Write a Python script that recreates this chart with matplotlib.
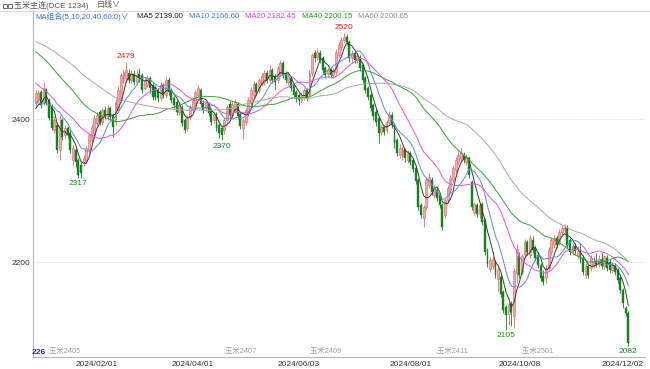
import matplotlib
matplotlib.use('Agg')
import matplotlib.pyplot as plt
import numpy as np
import pandas as pd
from matplotlib.patches import Rectangle
from matplotlib.lines import Line2D
import matplotlib.transforms as mtransforms

FONT = ['Liberation Sans', 'Noto Sans CJK SC', 'DejaVu Sans']
plt.rcParams['font.family'] = FONT

# ---------------- data ----------------
holidays = ['2024-01-01', '2024-02-09', '2024-02-12', '2024-02-13', '2024-02-14',
            '2024-02-15', '2024-02-16', '2024-04-04', '2024-04-05', '2024-05-01',
            '2024-05-02', '2024-05-03', '2024-06-10', '2024-09-16', '2024-09-17',
            '2024-10-01', '2024-10-02', '2024-10-03', '2024-10-04', '2024-10-07']
dates = pd.bdate_range('2023-12-29', '2024-12-04')
dates = dates[~dates.isin(pd.to_datetime(holidays))]

# closes before the first visible candle (used only to warm up the moving averages)
prior_closes = [2530,
                2525, 2530, 2538, 2545, 2540, 2532, 2528, 2535, 2542, 2548,
                2544, 2536, 2530, 2527, 2533, 2540, 2546, 2541, 2535, 2525,
                2552, 2560, 2566, 2558, 2563, 2570, 2562, 2555, 2548, 2552,
                2540, 2533, 2528, 2520, 2525, 2515, 2508, 2512, 2500, 2493,
                2495, 2488, 2490, 2480, 2476, 2470, 2472, 2465, 2460, 2464,
                2450, 2441, 2432, 2425, 2418, 2410, 2415, 2405, 2408]

opens = [2422, 2427, 2438, 2424, 2440, 2426, 2418, 2385, 2392, 2357,
         2398, 2378, 2387, 2380, 2343, 2357, 2343, 2336, 2340, 2343,
         2357, 2371, 2378, 2394, 2410, 2396, 2413, 2401, 2415, 2406,
         2396, 2413, 2427, 2455, 2457, 2464, 2455, 2463, 2452, 2463,
         2461, 2443, 2448, 2457, 2448, 2445, 2441, 2429, 2448, 2434,
         2455, 2441, 2429, 2424, 2410, 2415, 2399, 2387, 2403, 2413,
         2422, 2434, 2441, 2422, 2415, 2421, 2413, 2399, 2407, 2392,
         2387, 2385, 2399, 2421, 2406, 2413, 2421, 2407, 2387, 2396,
         2408, 2422, 2434, 2449, 2441, 2449, 2452, 2464, 2455, 2469,
         2460, 2455, 2466, 2478, 2464, 2452, 2457, 2448, 2438, 2434,
         2427, 2431, 2441, 2434, 2464, 2492, 2487, 2492, 2485, 2471,
         2463, 2469, 2461, 2466, 2490, 2501, 2511, 2515, 2508, 2485,
         2492, 2483, 2485, 2475, 2457, 2443, 2434, 2420, 2410, 2401,
         2382, 2389, 2385, 2396, 2406, 2392, 2370, 2350, 2348, 2356,
         2343, 2352, 2343, 2332, 2315, 2280, 2262, 2277, 2308, 2315,
         2294, 2301, 2294, 2280, 2266, 2287, 2301, 2315, 2329, 2340,
         2345, 2350, 2340, 2345, 2312, 2270, 2280, 2267, 2281, 2259,
         2217, 2190, 2195, 2200, 2176, 2179, 2158, 2137, 2127, 2141,
         2125, 2185, 2209, 2186, 2210, 2228, 2210, 2231, 2220, 2210,
         2196, 2180, 2178, 2192, 2214, 2224, 2234, 2228, 2242, 2245,
         2248, 2231, 2214, 2222, 2209, 2214, 2206, 2182, 2194, 2192,
         2196, 2202, 2197, 2204, 2194, 2206, 2200, 2189, 2194, 2189,
         2178, 2161, 2136, 2129]
highs = [2440, 2441, 2441, 2452, 2444, 2430, 2421, 2404, 2396, 2406,
         2401, 2392, 2390, 2384, 2363, 2360, 2346, 2340, 2349, 2362,
         2381, 2393, 2405, 2410, 2413, 2416, 2418, 2420, 2418, 2409,
         2428, 2446, 2465, 2470, 2479, 2470, 2468, 2468, 2470, 2471,
         2464, 2459, 2461, 2460, 2452, 2448, 2443, 2452, 2451, 2460,
         2459, 2444, 2432, 2427, 2422, 2419, 2402, 2405, 2420, 2430,
         2441, 2448, 2444, 2426, 2425, 2424, 2416, 2410, 2410, 2395,
         2390, 2402, 2420, 2425, 2426, 2428, 2424, 2410, 2402, 2416,
         2431, 2445, 2453, 2452, 2458, 2464, 2468, 2468, 2475, 2472,
         2463, 2474, 2482, 2481, 2467, 2464, 2460, 2451, 2441, 2437,
         2438, 2444, 2444, 2468, 2493, 2497, 2499, 2496, 2488, 2474,
         2472, 2473, 2472, 2498, 2508, 2515, 2520, 2519, 2511, 2496,
         2496, 2492, 2489, 2478, 2460, 2446, 2437, 2423, 2414, 2404,
         2392, 2392, 2399, 2411, 2410, 2395, 2373, 2365, 2362, 2360,
         2356, 2355, 2346, 2335, 2318, 2283, 2280, 2319, 2324, 2319,
         2308, 2304, 2297, 2283, 2290, 2307, 2322, 2335, 2347, 2357,
         2359, 2354, 2351, 2348, 2315, 2284, 2283, 2283, 2284, 2262,
         2220, 2207, 2208, 2203, 2194, 2182, 2161, 2140, 2145, 2145,
         2192, 2225, 2214, 2211, 2232, 2231, 2238, 2236, 2224, 2214,
         2199, 2189, 2196, 2221, 2235, 2238, 2238, 2246, 2252, 2253,
         2252, 2234, 2226, 2226, 2222, 2226, 2210, 2198, 2198, 2210,
         2208, 2213, 2210, 2214, 2210, 2210, 2204, 2200, 2198, 2192,
         2181, 2163, 2139, 2131]
lows = [2418, 2424, 2416, 2420, 2419, 2398, 2384, 2380, 2352, 2343,
        2371, 2374, 2373, 2352, 2336, 2333, 2317, 2318, 2334, 2339,
        2352, 2367, 2373, 2390, 2392, 2392, 2400, 2398, 2398, 2375,
        2392, 2408, 2424, 2450, 2452, 2450, 2450, 2447, 2448, 2452,
        2436, 2440, 2445, 2436, 2426, 2427, 2424, 2425, 2430, 2430,
        2434, 2422, 2415, 2406, 2405, 2390, 2380, 2383, 2399, 2408,
        2418, 2430, 2417, 2409, 2411, 2404, 2392, 2395, 2383, 2374,
        2370, 2379, 2395, 2402, 2402, 2409, 2400, 2386, 2372, 2392,
        2404, 2418, 2430, 2434, 2437, 2446, 2448, 2451, 2451, 2451,
        2442, 2451, 2462, 2457, 2450, 2448, 2439, 2430, 2424, 2420,
        2423, 2427, 2425, 2431, 2460, 2480, 2483, 2478, 2464, 2457,
        2459, 2457, 2457, 2462, 2487, 2497, 2506, 2503, 2480, 2478,
        2478, 2478, 2467, 2450, 2437, 2426, 2411, 2399, 2390, 2366,
        2377, 2377, 2380, 2392, 2388, 2360, 2348, 2346, 2343, 2340,
        2338, 2335, 2326, 2309, 2273, 2261, 2249, 2273, 2303, 2294,
        2290, 2286, 2276, 2245, 2262, 2283, 2297, 2311, 2325, 2336,
        2341, 2339, 2336, 2318, 2273, 2266, 2263, 2262, 2252, 2210,
        2193, 2186, 2190, 2178, 2160, 2151, 2128, 2105, 2112, 2110,
        2108, 2170, 2178, 2182, 2205, 2210, 2206, 2213, 2202, 2192,
        2174, 2168, 2170, 2188, 2210, 2220, 2220, 2224, 2238, 2241,
        2220, 2210, 2210, 2210, 2205, 2199, 2182, 2178, 2178, 2188,
        2192, 2193, 2193, 2190, 2190, 2188, 2185, 2185, 2182, 2171,
        2157, 2136, 2124, 2082]
closes = [2436, 2436, 2420, 2443, 2423, 2402, 2388, 2399, 2357, 2392,
          2375, 2388, 2378, 2357, 2359, 2340, 2322, 2325, 2345, 2359,
          2378, 2389, 2401, 2406, 2396, 2413, 2404, 2415, 2403, 2389,
          2424, 2441, 2461, 2466, 2468, 2455, 2464, 2452, 2461, 2457,
          2441, 2455, 2457, 2443, 2431, 2431, 2429, 2448, 2434, 2455,
          2438, 2427, 2420, 2410, 2418, 2394, 2385, 2401, 2417, 2427,
          2438, 2443, 2421, 2413, 2422, 2408, 2396, 2407, 2387, 2380,
          2378, 2399, 2417, 2406, 2421, 2424, 2404, 2390, 2399, 2413,
          2427, 2441, 2449, 2438, 2455, 2460, 2464, 2455, 2469, 2455,
          2452, 2471, 2478, 2461, 2455, 2460, 2443, 2434, 2429, 2427,
          2434, 2441, 2429, 2464, 2489, 2485, 2494, 2483, 2469, 2461,
          2469, 2461, 2468, 2494, 2504, 2511, 2515, 2508, 2485, 2492,
          2483, 2488, 2471, 2455, 2441, 2431, 2415, 2404, 2396, 2380,
          2389, 2382, 2396, 2407, 2392, 2366, 2352, 2360, 2358, 2345,
          2352, 2340, 2330, 2313, 2277, 2266, 2277, 2315, 2319, 2298,
          2304, 2290, 2280, 2249, 2287, 2304, 2318, 2331, 2343, 2350,
          2352, 2343, 2347, 2322, 2277, 2281, 2267, 2280, 2256, 2214,
          2197, 2203, 2204, 2182, 2190, 2155, 2133, 2126, 2141, 2130,
          2188, 2218, 2182, 2209, 2228, 2214, 2234, 2217, 2206, 2196,
          2178, 2172, 2192, 2217, 2231, 2234, 2224, 2242, 2248, 2249,
          2224, 2214, 2222, 2215, 2215, 2203, 2186, 2194, 2182, 2206,
          2202, 2197, 2204, 2194, 2208, 2192, 2189, 2196, 2186, 2175,
          2161, 2143, 2129, 2087]

ma_windows = [5, 10, 20, 40, 60]
ma_colors = ['#3a3a3a', '#6688dd', '#e455e4', '#3d9e3d', '#aaaaaa']

tick_dates = ['2024-02-01', '2024-04-01', '2024-06-03', '2024-08-01', '2024-10-08', '2024-12-02']
tick_labels = ['2024/02/01', '2024/04/01', '2024/06/03', '2024/08/01', '2024/10/08', '2024/12/02']

roll_dates = ['2023-12-29', '2024-04-19', '2024-06-07', '2024-08-15', '2024-10-09']
roll_labels = [';玉米2405', ';玉米2407', ';玉米2409', ';玉米2411', ';玉米2501']

peak_idx = [34, 116]
trough_idx = [16, 70, 177, 223]

header_title = '玉米主连(DCE 1234)'
header_period = '日线∨'
ma_header = 'MA组合(5,10,20,40,60,0)∨'
ma_values = ['2139.00', '2166.60', '2182.45', '2200.15', '2200.65']

# ---------------- figure ----------------
W, H = 650, 369
fig = plt.figure(figsize=(6.5, 3.69), dpi=100)
fig.patch.set_facecolor('white')


def fx(x):
    return x / W


def fy(y):
    return 1 - y / H


ax = fig.add_axes([fx(33), fy(357), fx(645) - fx(33), fy(26) - fy(357)])
ax.set_facecolor('white')

O = np.array(opens, float)
Hh = np.array(highs, float)
L = np.array(lows, float)
C = np.array(closes, float)
n = len(C)
x = np.arange(n)

up = C >= O
dn = ~up
up_face, up_edge = '#f3a9aa', '#e26a70'
dn_col = '#13841b'

ax.vlines(x[up], L[up], Hh[up], color=up_edge, lw=0.6, zorder=2)
ax.vlines(x[dn], L[dn], Hh[dn], color=dn_col, lw=0.6, zorder=2)
body_lo = np.minimum(O, C)
body_h = np.maximum(np.abs(C - O), 0.8)
ax.bar(x[up], body_h[up], bottom=body_lo[up], width=0.72, color=up_face,
       edgecolor=up_edge, linewidth=0.45, zorder=2.5)
ax.bar(x[dn], body_h[dn], bottom=body_lo[dn], width=0.72, color=dn_col,
       edgecolor=dn_col, linewidth=0.3, zorder=2.5)

full = pd.Series(prior_closes + closes, dtype=float)
k = len(prior_closes)
for w, col in zip(ma_windows, ma_colors):
    ma = full.rolling(w).mean().iloc[k:].to_numpy()
    ax.plot(x, ma, color=col, lw=0.7, zorder=3)

# grid lines
for v in (2200, 2400):
    ax.axhline(v, color='#c9c9c9', lw=0.6, ls=(0, (1, 2)), zorder=1)

y_top = 2400 + (119 - 26) * 200 / 143
y_bot = 2400 + (119 - 357) * 200 / 143
x_left = (33 - 35.8) / 2.657
x_right = (645 - 35.8) / 2.657
ax.set_xlim(x_left, x_right)
ax.set_ylim(y_bot, y_top)

ax.set_yticks([2200, 2400])
ax.set_yticklabels(['2200', '2400'])
tpos = [dates.get_loc(pd.Timestamp(d)) for d in tick_dates]
ax.set_xticks(tpos)
ax.set_xticklabels(tick_labels)
ax.tick_params(axis='both', length=0, labelsize=6, colors='#333333')
ax.tick_params(axis='x', pad=3)
ax.tick_params(axis='y', pad=2)
for s in ('top', 'right'):
    ax.spines[s].set_visible(False)
for s in ('left', 'bottom'):
    ax.spines[s].set_color('#b5b5b5')
    ax.spines[s].set_linewidth(0.8)

# extreme labels
for i in peak_idx:
    ax.annotate(str(int(Hh[i])), xy=(i, Hh[i]), xytext=(0, 1.5), textcoords='offset points',
                ha='center', va='bottom', fontsize=6, color='#e02424', annotation_clip=False,
                zorder=5)
for i in trough_idx:
    ax.annotate(str(int(L[i])), xy=(i, L[i]), xytext=(0, -1.5), textcoords='offset points',
                ha='center', va='top', fontsize=6, color='#1f8a22', annotation_clip=False,
                zorder=5)

# contract roll markers
trans = mtransforms.blended_transform_factory(ax.transData, ax.transAxes)
for d, lab in zip(roll_dates, roll_labels):
    i = dates.get_loc(pd.Timestamp(d))
    shift = 8 / 72 if i == 0 else -1 / 72
    off = mtransforms.ScaledTranslation(shift, 0, fig.dpi_scale_trans)
    ax.text(i, 0.006, lab, transform=trans + off, ha='left', va='bottom',
            fontsize=5.3, color='#a0a0a0', zorder=4)
fig.text(fx(32), fy(353), '226', fontsize=6, color='#2c2c9c', fontweight='bold',
         ha='left', va='center')

# header
fig.add_artist(Line2D([0, 1], [fy(11), fy(11)], color='#d6d6d6', lw=0.7))
fig.add_artist(Line2D([fx(33), fx(33)], [fy(11), fy(26)], color='#b5b5b5', lw=0.8))
for xx in (3, 8):
    fig.add_artist(Rectangle((fx(xx), fy(8)), fx(3.5), fy(4) - fy(8), fill=False,
                             edgecolor='#555555', lw=0.6))
fig.text(fx(14), fy(5.5), header_title, fontsize=5.8, color='#555555', va='center', ha='left')
fig.text(fx(97), fy(5.5), header_period, fontsize=5.8, color='#555555', va='center', ha='left')

fig.text(fx(35), fy(17), ma_header, fontsize=5.6, color='#3d6fd3', va='center', ha='left')
ma_x = [137, 189, 245, 302, 358]
val_colors = ['#222222', '#4a74d8', '#e03ce0', '#2a962a', '#8f8f8f']
for xx, w, v, col in zip(ma_x, ma_windows, ma_values, val_colors):
    fig.text(fx(xx), fy(17), f'MA{w} {v}', fontsize=5.6, color=col, va='center', ha='left')

fig.savefig('out.png', dpi=100, facecolor='white')
